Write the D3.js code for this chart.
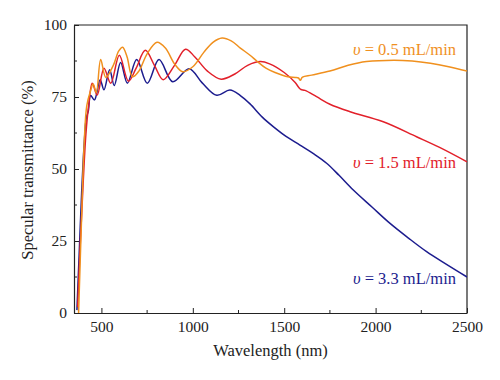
<!DOCTYPE html>
<html>
<head>
<meta charset="utf-8">
<script src="https://cdn.jsdelivr.net/npm/d3@7/dist/d3.min.js"></script>
<style>
  html, body { margin: 0; padding: 0; background: #fff; }
  svg { display: block; }
  text { font-family: "Liberation Serif", "DejaVu Serif", serif; }
</style>
</head>
<body>
<svg id="chart" width="500" height="380"></svg>
<script>
// ---- Data ----
const xTicks = [500, 1000, 1500, 2000, 2500];
const xMinorTicks = [750, 1250, 1750, 2250];
const yTicks = [0, 25, 50, 75, 100];
const yMinorTicks = [12.5, 37.5, 62.5, 87.5];

const seriesNames = ["υ = 0.5 mL/min", "υ = 1.5 mL/min", "υ = 3.3 mL/min"];
const seriesColors = ["#f0901e", "#e2202a", "#1c1c8e"];

// wavelength (nm) and transmittance (%) for each series
const w05 = [375, 390, 405, 420, 440, 455, 472, 496, 524, 565, 595, 616, 640, 670, 705, 750, 804, 850, 900, 945, 1000, 1060, 1110, 1160, 1210, 1260, 1313, 1350, 1400, 1450, 1520, 1560, 1578, 1588, 1600, 1650, 1750, 1850, 1950, 2100, 2200, 2300, 2400, 2500];
const t05 = [0, 30, 58, 72, 77, 79.5, 76.5, 88, 81.8, 86, 91, 92.3, 89, 82, 84, 90, 94, 92, 86.5, 83.8, 85.5, 90.5, 94, 95.5, 94.5, 92, 89.5, 87.5, 85, 83.5, 82, 81.8, 81.6, 80.8, 81.9, 82.6, 84, 86, 87.3, 87.8, 87.5, 86.7, 85.5, 84];

const w15 = [370, 385, 400, 415, 430, 450, 477, 514, 551, 598, 648, 690, 740, 790, 838, 900, 960, 1010, 1080, 1155, 1230, 1300, 1370, 1420, 1500, 1560, 1580, 1592, 1614, 1677, 1750, 1860, 2042, 2224, 2350, 2500];
const t15 = [2, 25, 45, 62, 72, 79.8, 75.7, 85, 79.8, 89.5, 80.5, 85, 91.2, 86, 81, 86, 91.6, 89, 84, 81.2, 83, 86, 87.3, 86.5, 83.5, 80, 78.3, 77.6, 77.3, 75.1, 72.5, 69.9, 66.4, 61.2, 57.5, 52.5];

const w33 = [366, 378, 392, 405, 418, 428, 441, 462, 493, 514, 545, 570, 605, 642, 693, 751, 815, 890, 980, 1050, 1131, 1203, 1260, 1313, 1380, 1440, 1510, 1586, 1660, 1732, 1800, 1878, 1980, 2079, 2180, 2279, 2390, 2500];
const t33 = [1, 20, 42, 58, 68, 70, 75.5, 74, 81, 77.5, 84.5, 79, 87, 79.8, 88, 79.8, 88, 80.3, 84.8, 80, 75.6, 77.4, 75.5, 72.6, 68, 64.7, 61.3, 58.3, 55.3, 52, 47.8, 42.7, 36.8, 31.1, 26, 21.3, 16.8, 12.5];

const seriesW = [w05, w15, w33];
const seriesT = [t05, t15, t33];

// ---- Layout ----
const svg = d3.select("#chart");
const mL = 74, mR = 467, mT = 25, mB = 313;

const x = d3.scaleLinear().domain([350, 2500]).range([mL, mR]);
const y = d3.scaleLinear().domain([0, 100]).range([mB, mT]);

// frame (top and right)
svg.append("path")
  .attr("d", `M${mL},${mT}H${mR}V${mB}`)
  .attr("fill", "none").attr("stroke", "#222").attr("stroke-width", 1.2);

// x axis
const gx = svg.append("g").attr("transform", `translate(0,${mB})`)
  .call(d3.axisBottom(x).tickValues(xTicks).tickSize(-5).tickPadding(8).tickSizeOuter(0).tickFormat(d3.format("d")));
gx.append("g").selectAll("line").data(xMinorTicks).join("line")
  .attr("x1", d => x(d)).attr("x2", d => x(d)).attr("y1", 0).attr("y2", -3)
  .attr("stroke", "#222");

// y axis
const gy = svg.append("g").attr("transform", `translate(${mL},0)`)
  .call(d3.axisLeft(y).tickValues(yTicks).tickSize(-5).tickPadding(7).tickSizeOuter(0));
gy.append("g").selectAll("line").data(yMinorTicks).join("line")
  .attr("x1", 0).attr("x2", 3).attr("y1", d => y(d)).attr("y2", d => y(d))
  .attr("stroke", "#222");

[gx, gy].forEach(g => {
  g.selectAll(".domain").attr("stroke", "#222").attr("stroke-width", 1.2);
  g.selectAll(".tick line").attr("stroke", "#222");
  g.selectAll("text").attr("font-family", "Liberation Serif, DejaVu Serif, serif")
    .attr("font-size", 15.5).attr("fill", "#222");
});

// clip
svg.append("clipPath").attr("id", "clip").append("rect")
  .attr("x", mL).attr("y", mT).attr("width", mR - mL).attr("height", mB - mT);

const line = d3.line().x(d => x(d[0])).y(d => y(d[1])).curve(d3.curveCatmullRom.alpha(0.5));

const order = [2, 1, 0];
order.forEach(i => {
  const pts = seriesW[i].map((w, k) => [w, seriesT[i][k]]);
  svg.append("path")
    .datum(pts)
    .attr("clip-path", "url(#clip)")
    .attr("fill", "none")
    .attr("stroke", seriesColors[i])
    .attr("stroke-width", 1.5)
    .attr("d", line);
});

// annotations
const labelY = [55, 168, 284];
seriesNames.forEach((name, i) => {
  const t = svg.append("text")
    .attr("x", 456).attr("y", labelY[i])
    .attr("text-anchor", "end")
    .attr("font-size", 16.5)
    .attr("fill", seriesColors[i]);
  t.append("tspan").attr("font-style", "italic").text(name.slice(0, 1));
  t.append("tspan").text(name.slice(1));
});

// axis titles
svg.append("text")
  .attr("x", (mL + mR) / 2).attr("y", 356)
  .attr("text-anchor", "middle").attr("font-size", 16.5).attr("fill", "#222")
  .text("Wavelength (nm)");

svg.append("text")
  .attr("transform", `translate(33,${(mT + mB) / 2 + 1}) rotate(-90)`)
  .attr("text-anchor", "middle").attr("font-size", 16.5).attr("fill", "#222")
  .text("Specular transmittance (%)");
</script>
</body>
</html>
